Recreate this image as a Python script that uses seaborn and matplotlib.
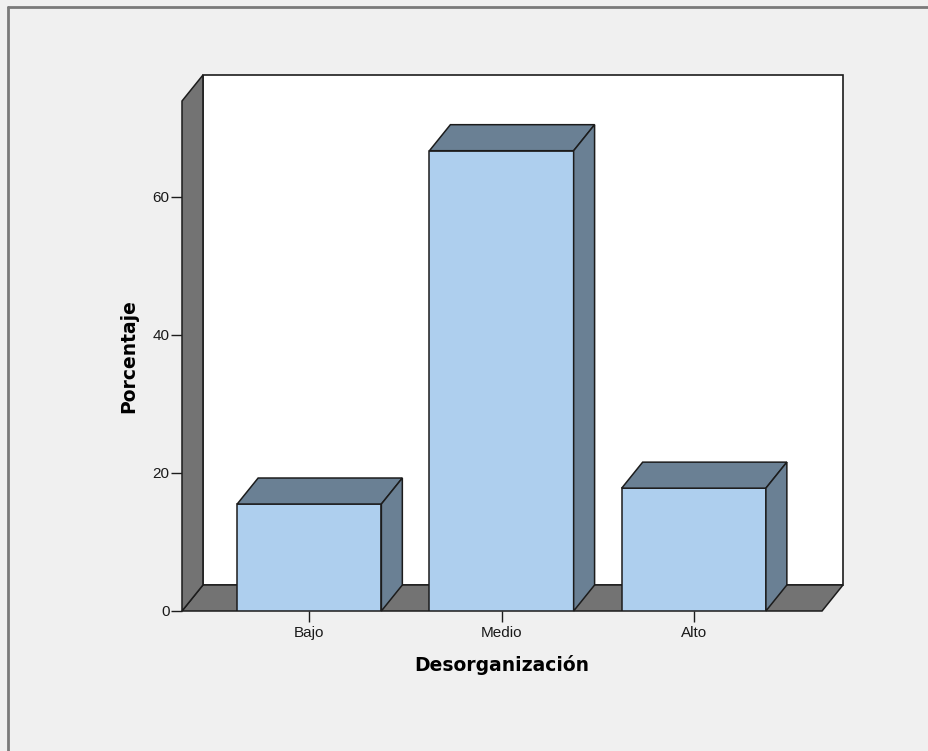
import matplotlib
matplotlib.use("Agg")
import matplotlib.pyplot as plt
from matplotlib.patches import Polygon
from matplotlib.lines import Line2D
import seaborn as sns
import pandas as pd

# Data
categories = ["Bajo", "Medio", "Alto"]
percentages = [15.5, 66.7, 17.8]
y_ticks = [0, 20, 40, 60]

sns.set_style("white")
plt.rcParams["font.family"] = ["Liberation Sans", "DejaVu Sans"]

FRONT = "#aecfee"
SHADE = "#6a8094"
WALL = "#737373"
EDGE = "#1c1c1c"
BG = "#f0f0f0"

fig = plt.figure(figsize=(9.29, 7.51), dpi=100, facecolor=BG)
ax = fig.add_axes([182 / 929, 1 - 611 / 751, 661 / 929, 536 / 751])
ax.set_facecolor("none")

df = pd.DataFrame({"cat": categories, "pct": percentages})
sns.barplot(data=df, x="cat", y="pct", order=categories, width=0.75,
            color=FRONT, saturation=1, edgecolor=EDGE, linewidth=1.1,
            zorder=3, ax=ax)
for p in ax.patches:
    p.set_facecolor(FRONT)

# depth offset of the 3D projection (data units)
dx, dy = 0.109, 3.77
x_left, x_right = -0.662, 2.667
y_top_front = 73.9

ax.set_xlim(x_left, x_right + dx)
ax.set_ylim(0, y_top_front + dy)

# back wall
ax.add_patch(Polygon([(x_left + dx, dy), (x_right + dx, dy),
                      (x_right + dx, y_top_front + dy),
                      (x_left + dx, y_top_front + dy)],
                     closed=True, facecolor="white", edgecolor=EDGE,
                     linewidth=1.2, zorder=0.5, clip_on=False))
# floor
ax.add_patch(Polygon([(x_left, 0), (x_right, 0), (x_right + dx, dy),
                      (x_left + dx, dy)],
                     closed=True, facecolor=WALL, edgecolor=EDGE,
                     linewidth=1.1, zorder=1, clip_on=False))
# side wall
ax.add_patch(Polygon([(x_left, 0), (x_left + dx, dy),
                      (x_left + dx, y_top_front + dy),
                      (x_left, y_top_front)],
                     closed=True, facecolor=WALL, edgecolor=EDGE,
                     linewidth=1.1, zorder=1, clip_on=False))

# top and side faces of each bar
for p in list(ax.patches)[:len(categories)]:
    x0, w, h = p.get_x(), p.get_width(), p.get_height()
    ax.add_patch(Polygon([(x0, h), (x0 + dx, h + dy), (x0 + w + dx, h + dy),
                          (x0 + w, h)], closed=True, facecolor=SHADE,
                         edgecolor=EDGE, linewidth=1.1, zorder=3,
                         clip_on=False))
    ax.add_patch(Polygon([(x0 + w, 0), (x0 + w + dx, dy),
                          (x0 + w + dx, h + dy), (x0 + w, h)], closed=True,
                         facecolor=SHADE, edgecolor=EDGE, linewidth=1.1,
                         zorder=3, clip_on=False))

for s in ax.spines.values():
    s.set_visible(False)

ax.set_yticks(y_ticks)
ax.set_yticklabels([str(t) for t in y_ticks])
ax.tick_params(axis="y", left=True, length=8, width=1, color=EDGE,
               labelsize=11, pad=1, labelcolor="#1a1a1a")
ax.tick_params(axis="x", bottom=True, length=8, width=1, color=EDGE,
               labelsize=11, pad=3, labelcolor="#1a1a1a")

ax.set_xlabel("Desorganización", fontsize=13.5, fontweight="bold",
              family="DejaVu Sans", color="black")
ax.set_ylabel("Porcentaje", fontsize=13.5, fontweight="bold",
              family="DejaVu Sans", color="black")
# centre the titles on the front face of the chart box
ax.xaxis.set_label_coords(0.484, -0.083)
ax.yaxis.set_label_coords(-0.066, 0.476)

# outer frame
fig.add_artist(Line2D([8 / 929, 1], [1 - 7 / 751, 1 - 7 / 751],
                      transform=fig.transFigure, color="#7a7a7a", lw=2))
fig.add_artist(Line2D([8 / 929, 8 / 929], [0, 1 - 7 / 751],
                      transform=fig.transFigure, color="#7a7a7a", lw=2))

fig.savefig("out.png", dpi=100, facecolor=BG)
